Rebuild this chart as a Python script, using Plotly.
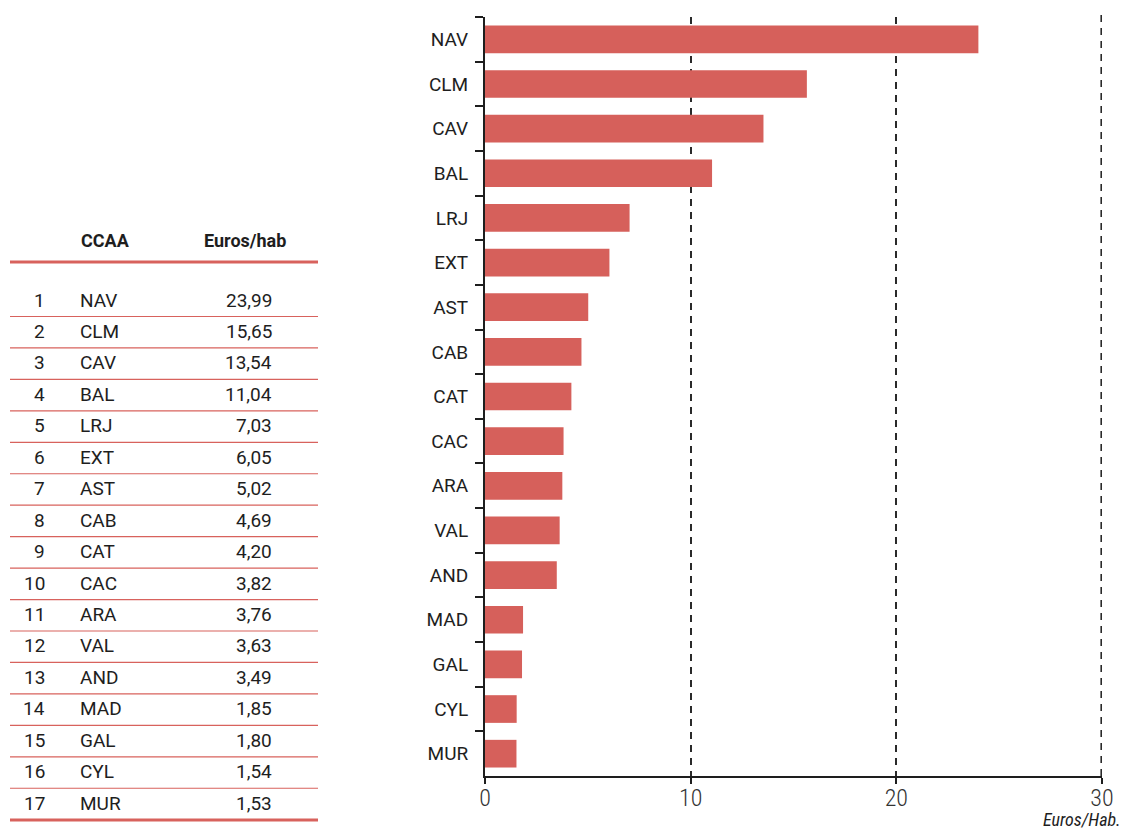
import plotly.graph_objects as go

# Spending per inhabitant by autonomous community
regions = ["NAV", "CLM", "CAV", "BAL", "LRJ", "EXT", "AST", "CAB", "CAT",
           "CAC", "ARA", "VAL", "AND", "MAD", "GAL", "CYL", "MUR"]
euros = [23.99, 15.65, 13.54, 11.04, 7.03, 6.05, 5.02, 4.69, 4.20,
         3.82, 3.76, 3.63, 3.49, 1.85, 1.80, 1.54, 1.53]
x_ticks = [0, 10, 20, 30]
table_header = ["CCAA", "Euros/hab"]
x_unit = "Euros/Hab."

W, H = 1125, 830
BAR = "#d6605b"
RED = "#d8625d"
INK = "#1e1e1e"
GRID = "#2a2a2a"
FONT = "Roboto, sans-serif"
COND = "Roboto Condensed, Liberation Sans Narrow, Roboto, sans-serif"


def fx(x):
    return x / W


def fy(y):
    return 1 - y / H


fig = go.Figure(go.Bar(
    x=euros, y=regions, orientation="h",
    marker=dict(color=BAR, line=dict(width=0)),
    width=0.62, showlegend=False,
))

fig.update_layout(
    width=W, height=H,
    margin=dict(l=0, r=0, t=0, b=0, autoexpand=False),
    paper_bgcolor="white", plot_bgcolor="white",
    font=dict(family=FONT, color=INK, size=19),
)

fig.update_xaxes(
    domain=[fx(485), fx(1102)], automargin=False,
    range=[0, 30], tickvals=x_ticks, ticktext=[str(t) for t in x_ticks],
    showline=True, linecolor=INK, linewidth=2,
    ticks="outside", ticklen=6, tickwidth=2, tickcolor=INK,
    tickfont=dict(size=24, family=COND, color="#333", weight=300),
    ticklabelstandoff=-7,
    showgrid=True, gridcolor=GRID, gridwidth=1.6, griddash="7px,6px",
    zeroline=False, fixedrange=True,
)

fig.update_yaxes(
    domain=[fy(776), fy(17)], automargin=False,
    categoryorder="array", categoryarray=regions, autorange="reversed",
    showline=True, linecolor=INK, linewidth=2,
    ticks="outside", tickson="boundaries", ticklen=8, tickwidth=2, tickcolor=INK,
    tickfont=dict(size=19, family=FONT, color=INK),
    ticklabelstandoff=11,
    showgrid=False, zeroline=False, fixedrange=True,
)

annotations = [dict(
    text=f"<i>{x_unit}</i>", x=fx(1123), y=fy(819), xref="paper", yref="paper",
    xanchor="right", yanchor="middle", showarrow=False,
    font=dict(size=18, family=COND, color=INK),
)]
shapes = []

# dashed guide at the far end of the value scale (half of it is clipped by the plot edge)
shapes.append(dict(type="line", xref="x", yref="paper",
                   x0=x_ticks[-1], x1=x_ticks[-1], y0=fy(776), y1=fy(12),
                   line=dict(color=GRID, width=3.2, dash="7px,6px")))

# Ranking table on the left
annotations.append(dict(text=f"<b>{table_header[0]}</b>", x=fx(105), y=fy(240),
                        xref="paper", yref="paper", xanchor="center", yanchor="middle",
                        showarrow=False, font=dict(size=18, family=FONT, color=INK)))
annotations.append(dict(text=f"<b>{table_header[1]}</b>", x=fx(245), y=fy(240),
                        xref="paper", yref="paper", xanchor="center", yanchor="middle",
                        showarrow=False, font=dict(size=18, family=FONT, color=INK)))
shapes.append(dict(type="line", xref="paper", yref="paper",
                   x0=fx(10), x1=fx(318), y0=fy(262), y1=fy(262),
                   line=dict(color=RED, width=3)))

row0, step = 300, 31.45
for i, (name, val) in enumerate(zip(regions, euros)):
    yc = row0 + i * step
    annotations.append(dict(text=str(i + 1), x=fx(47), y=fy(yc), xref="paper", yref="paper",
                            xanchor="right", yanchor="middle", showarrow=False,
                            font=dict(size=19, family=FONT, color=INK)))
    annotations.append(dict(text=name, x=fx(78), y=fy(yc), xref="paper", yref="paper",
                            xanchor="left", yanchor="middle", showarrow=False,
                            font=dict(size=19, family=FONT, color=INK)))
    annotations.append(dict(text=f"{val:.2f}".replace(".", ","), x=fx(274), y=fy(yc),
                            xref="paper", yref="paper", xanchor="right", yanchor="middle",
                            showarrow=False, font=dict(size=19, family=FONT, color=INK)))
    if i < len(regions) - 1:
        shapes.append(dict(type="line", xref="paper", yref="paper",
                           x0=fx(10), x1=fx(318), y0=fy(yc + 16.5), y1=fy(yc + 16.5),
                           line=dict(color=RED, width=1.2)))

shapes.append(dict(type="line", xref="paper", yref="paper",
                   x0=fx(10), x1=fx(318), y0=fy(820), y1=fy(820),
                   line=dict(color=RED, width=3)))

fig.update_layout(annotations=annotations, shapes=shapes)

fig.write_html("out.html")
